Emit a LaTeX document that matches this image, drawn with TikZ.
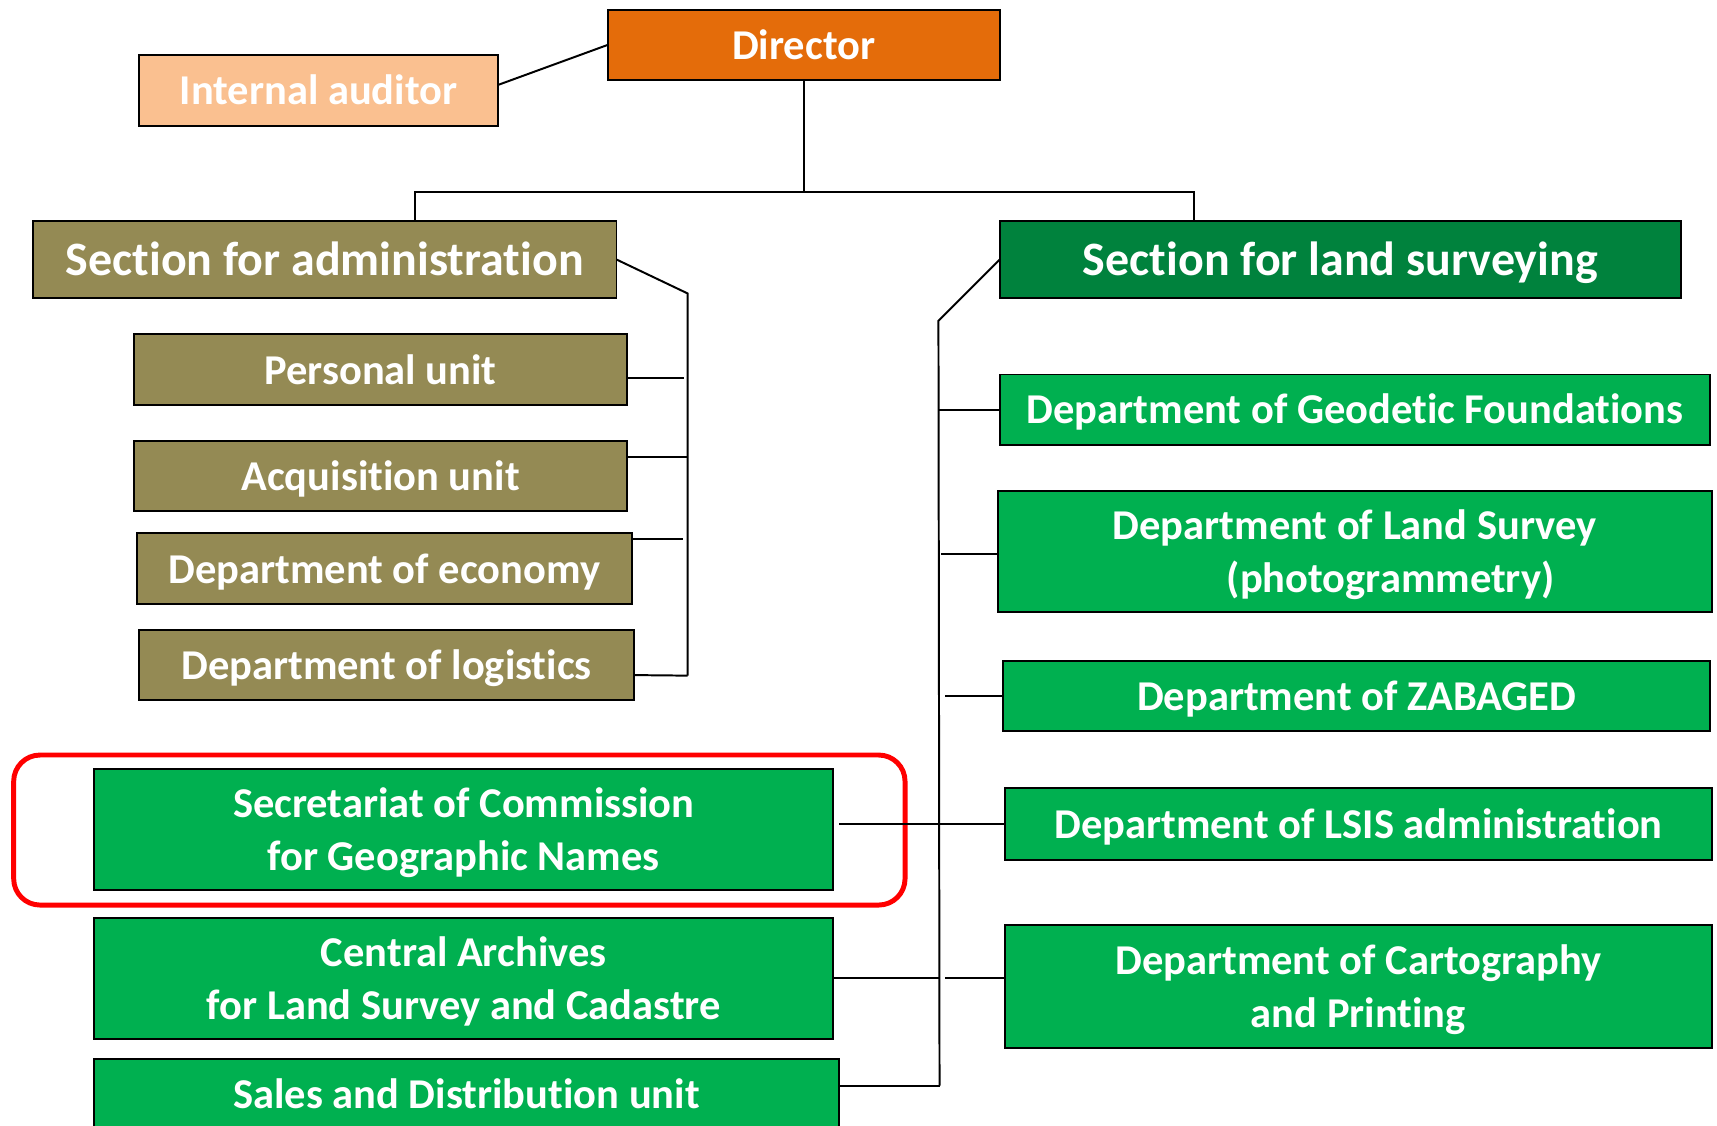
\documentclass[tikz,border=0pt]{standalone}
\usepackage{fontspec}
\setmainfont{Carlito}[Ligatures={NoCommon,NoContextual}]
\definecolor{peach}{HTML}{FAC090}
\definecolor{dirorange}{HTML}{E46C0A}
\definecolor{olive}{HTML}{948A54}
\definecolor{darkgreen}{HTML}{00823D}
\definecolor{offgreen}{HTML}{00B050}
\definecolor{hired}{HTML}{FF0000}
\newcommand\vs{\rule[-0.27em]{0pt}{1.22em}}
\tikzset{
  box/.style={draw=black, line width=1.8pt, text=white, inner sep=0pt, outer sep=0pt,
    align=center, font=\bfseries\fontsize{38.8}{46.4}\selectfont},
  bigbox/.style={box, font=\bfseries\fontsize{43.8}{52.5}\selectfont},
  conn/.style={draw=black, line width=1.8pt},
}
\begin{document}
\begin{tikzpicture}[x=1pt, y=-1pt]
\clip (0,0) rectangle (1568,1027.4);
\fill[white] (0,0) rectangle (1568,1027.4);
% top
\node[box, fill=peach, minimum width=328, minimum height=65] (aud) at (291,82.5) {\vs Internal auditor};
\node[box, fill=dirorange, minimum width=358, minimum height=64] (dir) at (734,41) {\vs Director};
\node[bigbox, fill=olive, minimum width=533, minimum height=70] (admin) at (296.5,237) {\vs Section for administration};
\node[bigbox, fill=darkgreen, minimum width=622, minimum height=70] (land) at (1224,237) {\vs Section for land surveying};
% admin units
\node[box, fill=olive, minimum width=451, minimum height=65] (pers) at (347.5,337.5) {\vs Personal unit};
\node[box, fill=olive, minimum width=451, minimum height=64] (acq) at (347.5,435) {\vs Acquisition unit};
\node[box, fill=olive, minimum width=452, minimum height=65] (econ) at (351,519.5) {\vs Department of economy};
\node[box, fill=olive, minimum width=452, minimum height=64] (logi) at (353,607) {\vs Department of logistics};
% land departments
\node[box, fill=offgreen, minimum width=649, minimum height=64] (geo) at (1237.5,374) {\vs Department of Geodetic Foundations};
\node[box, fill=offgreen, minimum width=652, minimum height=111] (lsurv) at (1237,503.5) {\vs Department of Land Survey\\\vs\hspace*{66pt}(photogrammetry)};
\node[box, fill=offgreen, minimum width=646, minimum height=64] (zab) at (1239,636) {\vs Department of ZABAGED};
\node[box, fill=offgreen, minimum width=645, minimum height=65] (lsis) at (1240.5,752.5) {\vs Department of LSIS administration};
\node[box, fill=offgreen, minimum width=645, minimum height=112] (carto) at (1240.5,901) {\vs Department of Cartography\\\vs and Printing};
% left green units
\node[box, fill=offgreen, minimum width=675, minimum height=111] (secr) at (423.5,757.5) {\vs Secretariat of Commission\\\vs for Geographic Names};
\node[box, fill=offgreen, minimum width=675, minimum height=111] (arch) at (423.5,893.5) {\vs Central Archives\\\vs for Land Survey and Cadastre};
\node[box, fill=offgreen, minimum width=680, minimum height=65] (sales) at (426,999.5) {\vs Sales and Distribution unit};
% highlight
\draw[hired, line width=4.5pt, rounded corners=24pt] (12.5,689.5) rectangle (826.5,826.5);
% connectors top
\draw[conn] ([yshift=5pt]aud.east) -- (dir.west);
\coordinate (busL) at (379,175);
\coordinate (busR) at (1090,175);
\draw[conn] (dir.south) -- (dir.south |- busL);
\draw[conn] (busL |- admin.north) -- (busL) -- (busR) -- (busR |- land.north);
% admin tree
\coordinate (aT) at (628,268);
\coordinate (aB) at (628,617);
\draw[conn] (admin.east) -- (aT) -- (aB);
\draw[conn] ([yshift=-7.5pt]pers.east) -- ++(52,0);
\draw[conn] ([yshift=18pt]acq.east) -- ++(55,0);
\draw[conn] ([yshift=27.5pt]econ.east) -- ++(47,0);
\draw[conn] ([yshift=-9.5pt]logi.east) -- (aB);
% land tree
\coordinate (lT) at (857,293);
\coordinate (lB) at (858,991.5);
\draw[conn] (land.west) -- (lT) -- (lB);
\draw[conn] (geo.west) -- ++(-56,0);
\draw[conn] ([yshift=-2pt]lsurv.west) -- ++(-52,0);
\draw[conn] (zab.west) -- ++(-53,0);
\draw[conn] (lsis.west) -- ++(-152,0);
\draw[conn] ([yshift=7.5pt]carto.west) -- ++(-55,0);
\draw[conn] (arch.east) -- ++(97,0);
\draw[conn] ([yshift=8pt]sales.east) -- (lB);
\end{tikzpicture}
\end{document}
